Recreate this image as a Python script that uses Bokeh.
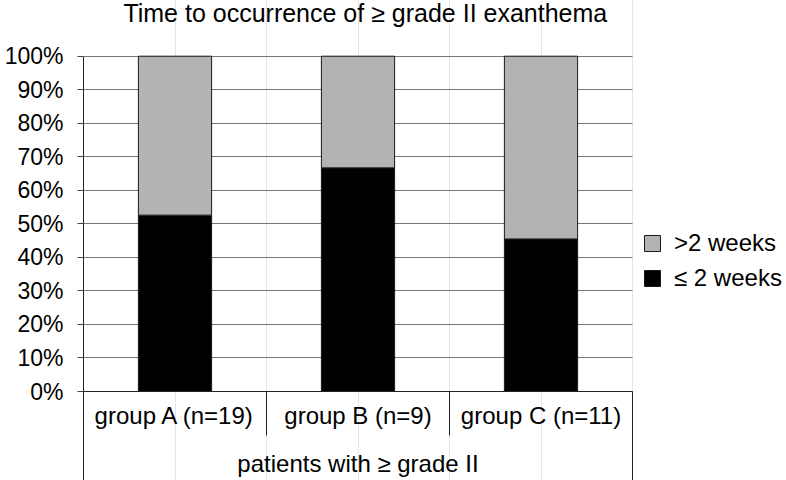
from bokeh.plotting import figure
from bokeh.models import (Range1d, LinearAxis, FixedTicker, PrintfTickFormatter,
                          Legend, LegendItem, ColumnDataSource, Grid)
from bokeh.core.properties import value
from bokeh.embed import file_html
from bokeh.resources import INLINE

# ---- data ----
title_text = "Time to occurrence of \u2265 grade II exanthema"
group_title = "patients with \u2265 grade II"
categories = ["group A (n=19)", "group B (n=9)", "group C (n=11)"]
le2_label = "\u2264 2 weeks"
gt2_label = ">2 weeks"
le2_pct = [52.6, 66.7, 45.5]
gt2_pct = [47.4, 33.3, 54.5]
y_ticks = [0, 10, 20, 30, 40, 50, 60, 70, 80, 90, 100]

FONT = "Liberation Sans"
n = len(categories)
W, H = 786, 480
LEFT = 83
PX_PER_CAT = 183.0
PX_PER_PCT = 3.353
ZERO_Y = 391.0
Y1 = 100 + (ZERO_Y - 100 * PX_PER_PCT) / PX_PER_PCT
Y0 = -(H - ZERO_Y) / PX_PER_PCT
X1 = (W - LEFT) / PX_PER_CAT
SHIFT = 8 / PX_PER_PCT  # text baseline correction

src = ColumnDataSource(dict(
    x=[i + 0.5 for i in range(n)],
    cat=categories,
    le2=le2_pct,
    gt2=gt2_pct,
))

p = figure(width=W, height=H, output_backend="svg", toolbar_location=None,
           x_range=Range1d(0, X1), y_range=Range1d(Y0, Y1),
           x_axis_location=None,
           min_border_left=LEFT, min_border_right=0, min_border_top=0, min_border_bottom=0)
p.outline_line_color = None
p.background_fill_color = "white"

# y axis
yax = p.yaxis[0]
yax.ticker = FixedTicker(ticks=y_ticks)
yax.formatter = PrintfTickFormatter(format="%d%%")
yax.bounds = (Y0, 100)
yax.major_tick_out = 6
yax.major_tick_in = 0
yax.minor_tick_line_color = None
yax.major_tick_line_color = "#444444"
yax.axis_line_color = "#222222"
yax.major_label_text_font = FONT
yax.major_label_text_font_size = "23px"
yax.major_label_text_color = "black"
yax.major_label_standoff = 14

p.ygrid.ticker = FixedTicker(ticks=y_ticks)
p.ygrid.grid_line_color = "#777777"
p.ygrid.grid_line_width = 1
use_cross = "cross_bounds" in Grid.properties()
if use_cross:
    p.ygrid.cross_bounds = (0, n)

# x baseline axis at 0
xax = LinearAxis(fixed_location=0, bounds=(0, n), ticker=FixedTicker(ticks=[]),
                 major_tick_line_color=None, minor_tick_line_color=None,
                 major_label_text_font_size="0px", axis_line_color="#222222")
p.add_layout(xax, "below")

if not use_cross:
    p.quad(left=[n + 0.004], right=[X1], bottom=[0.5], top=[100.5],
           fill_color="white", line_color=None)

# bars
r = p.vbar_stack(["le2", "gt2"], x="x", width=0.4, source=src,
                 fill_color=["#000000", "#b3b3b3"], line_color="#1a1a1a", line_width=1)

# category dividers
p.segment(x0=list(range(1, n + 1)), y0=[0] * n,
          x1=list(range(1, n + 1)), y1=[-13.1] * (n - 1) + [Y0],
          line_color="#222222", line_width=1)

# category labels
p.text(x="x", y=-9.6 + SHIFT, text="cat", source=src, text_align="center",
       text_baseline="alphabetic", text_font=value(FONT), text_font_size="24px",
       text_color="black")
p.text(x=[n / 2], y=[-24.0 + SHIFT], text=[group_title], text_align="center",
       text_baseline="alphabetic", text_font=value(FONT), text_font_size="24px",
       text_color="black")
# title
p.text(x=[1.54], y=[110.35 + SHIFT], text=[title_text], text_align="center",
       text_baseline="alphabetic", text_font=value(FONT), text_font_size="25px",
       text_color="black")

legend = Legend(items=[LegendItem(label=gt2_label, renderers=[r[1]]),
                       LegendItem(label=le2_label, renderers=[r[0]])],
                location=(559, 188), glyph_width=20, glyph_height=20,
                label_standoff=12, spacing=7, padding=0, margin=0,
                border_line_color=None, background_fill_alpha=0,
                label_text_font=FONT, label_text_font_size="24px",
                label_text_color="black")
p.add_layout(legend, "center")

open("out.html", "w").write(file_html(p, INLINE))
